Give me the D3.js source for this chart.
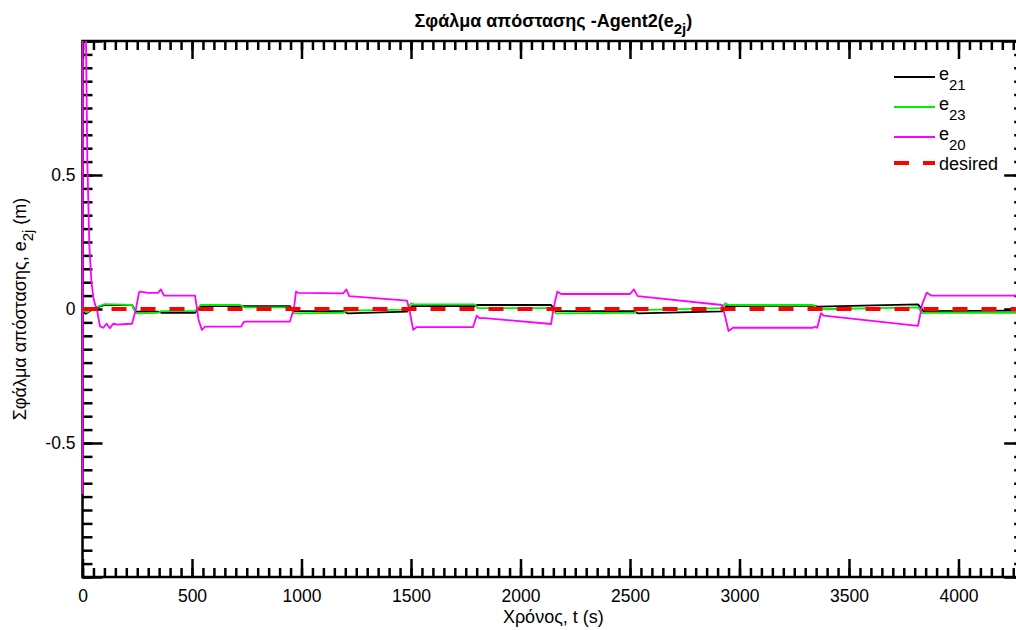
<!DOCTYPE html>
<html>
<head>
<meta charset="utf-8">
<script src="https://cdn.jsdelivr.net/npm/d3@7"></script>
<style>
  body { margin: 0; background: #fff; }
  svg text { font-family: Arial, "Liberation Sans", sans-serif; }
</style>
</head>
<body>
<div id="chart"></div>
<script>
// time (s) and error (m) for each series
const t21 = [0, 15, 40, 80, 103, 226, 244, 345, 360, 514, 540, 947, 965, 1190, 1210, 1482, 1505, 1790, 1805, 2140, 2160, 2520, 2535, 2920, 2940, 3336, 3360, 3815, 3840, 4300];
const e21 = [-0.01, -0.018, -0.005, 0.01, 0.015, 0.015, -0.01, -0.01, -0.014, -0.014, 0.011, 0.011, -0.008, -0.008, -0.016, -0.01, 0.011, 0.011, 0.015, 0.015, -0.008, -0.008, -0.016, -0.009, 0.011, 0.012, 0.009, 0.017, -0.008, -0.006];

const t23 = [0, 20, 60, 90, 103, 226, 244, 345, 360, 514, 540, 720, 740, 947, 965, 1190, 1210, 1482, 1500, 1515, 1790, 1805, 2140, 2160, 2520, 2535, 2920, 2935, 2950, 3336, 3360, 3815, 3835, 3850, 4300];
const e23 = [-0.005, -0.012, 0.005, 0.015, 0.018, 0.015, -0.016, -0.014, -0.008, -0.008, 0.015, 0.015, 0.006, 0.006, -0.016, -0.014, -0.006, -0.002, 0.021, 0.017, 0.017, 0.003, 0.003, -0.016, -0.014, -0.004, 0.003, 0.021, 0.015, 0.015, -0.001, 0.006, -0.016, -0.014, -0.014];

const t20 = [0, 2, 8, 13, 16, 22, 31, 40, 49, 58, 66, 72, 80, 95, 110, 125, 140, 160, 200, 226, 244, 258, 263, 300, 345, 358, 372, 377, 514, 530, 545, 560, 719, 725, 735, 742, 947, 965, 975, 985, 1190, 1205, 1218, 1482, 1492, 1510, 1525, 1783, 1800, 1812, 1838, 2140, 2150, 2168, 2185, 2500, 2518, 2535, 2920, 2935, 2950, 2970, 3336, 3345, 3355, 3372, 3385, 3815, 3835, 3855, 3875, 4300];
const e20 = [-0.69, 3.0, 2.0, 1.2, 1.0, 0.56, 0.24, 0.11, 0.045, 0.015, 0.0, -0.03, -0.065, -0.07, -0.055, -0.072, -0.055, -0.058, -0.056, -0.055, 0.0, 0.062, 0.065, 0.06, 0.06, 0.073, 0.05, 0.05, 0.05, -0.04, -0.078, -0.066, -0.066, -0.066, -0.05, -0.047, -0.047, 0.0, 0.065, 0.06, 0.058, 0.073, 0.048, 0.031, 0.0, -0.078, -0.068, -0.068, -0.025, -0.034, -0.034, -0.056, 0.0, 0.065, 0.056, 0.056, 0.073, 0.048, 0.015, -0.03, -0.082, -0.07, -0.07, -0.066, -0.07, -0.016, -0.025, -0.063, 0.02, 0.061, 0.05, 0.05];

const desiredT = [0, 4300];
const desiredV = [0, 0];

const xDomain = [0, 4300];
const yDomain = [-1, 1];
const xMajor = d3.range(0, 4001, 500);
const xMinor = d3.range(0, 4301, 50);
const yMajor = [-1, -0.5, 0, 0.5, 1];
const yMinor = d3.range(-20, 21).map(i => i * 0.05);
const yLabelled = [-0.5, 0, 0.5];

const legendNames = [["e", "21"], ["e", "23"], ["e", "20"], ["desired", ""]];
const colors = ["#000000", "#00ee00", "#ff00ff", "#ff0000"];

const width = 1016, height = 630;
const margin = { left: 82.5, top: 41, bottom: 53 };
const plotW = 4300 * 0.219;
const plotH = height - margin.top - margin.bottom;

const svg = d3.select("#chart").append("svg")
  .attr("width", width)
  .attr("height", height)
  .style("display", "block");

const x = d3.scaleLinear().domain(xDomain).range([margin.left, margin.left + plotW]);
const y = d3.scaleLinear().domain(yDomain).range([margin.top + plotH, margin.top]);

svg.append("clipPath").attr("id", "clip")
  .append("rect")
  .attr("x", margin.left - 2).attr("y", margin.top)
  .attr("width", plotW + 2).attr("height", plotH);

// axes, ticks pointing inward
function styleAxis(g) {
  g.select(".domain").remove();
  g.selectAll(".tick line").attr("stroke", "#000").attr("stroke-width", 2.5);
  g.selectAll(".tick text").attr("fill", "#000").style("font-size", "17.5px")
    .style("font-family", 'Arial, "Liberation Sans", sans-serif');
}
const bottomY = margin.top + plotH;
const rightX = margin.left + plotW;

svg.append("g").attr("transform", `translate(0,${bottomY})`)
  .call(d3.axisBottom(x).tickValues(xMinor).tickSize(-9).tickFormat(""))
  .call(styleAxis);
svg.append("g").attr("transform", `translate(0,${bottomY})`)
  .call(d3.axisBottom(x).tickValues(xMajor).tickSize(-18).tickPadding(13).tickFormat(d => String(d)))
  .call(styleAxis);
svg.append("g").attr("transform", `translate(0,${margin.top})`)
  .call(d3.axisTop(x).tickValues(xMinor).tickSize(-9).tickFormat(""))
  .call(styleAxis);
svg.append("g").attr("transform", `translate(0,${margin.top})`)
  .call(d3.axisTop(x).tickValues(xMajor).tickSize(-18).tickFormat(""))
  .call(styleAxis);

svg.append("g").attr("transform", `translate(${margin.left},0)`)
  .call(d3.axisLeft(y).tickValues(yMinor).tickSize(-10).tickFormat(""))
  .call(styleAxis);
svg.append("g").attr("transform", `translate(${margin.left},0)`)
  .call(d3.axisLeft(y).tickValues(yMajor).tickSize(-20).tickPadding(7)
    .tickFormat(d => yLabelled.includes(d) ? String(d) : ""))
  .call(styleAxis);
svg.append("g").attr("transform", `translate(${rightX},0)`)
  .call(d3.axisRight(y).tickValues(yMinor).tickSize(-10).tickFormat(""))
  .call(styleAxis);
svg.append("g").attr("transform", `translate(${rightX},0)`)
  .call(d3.axisRight(y).tickValues(yMajor).tickSize(-20).tickFormat(""))
  .call(styleAxis);

// frame
svg.append("rect")
  .attr("x", margin.left).attr("y", margin.top)
  .attr("width", plotW).attr("height", plotH)
  .attr("fill", "none").attr("stroke", "#000").attr("stroke-width", 2.5);

// lines, drawn over the frame
const line = d3.line().x(d => x(d[0])).y(d => y(d[1]));
const series = [
  d3.zip(t21, e21),
  d3.zip(t23, e23),
  d3.zip(t20, e20),
  d3.zip(desiredT, desiredV)
];
const plot = svg.append("g").attr("clip-path", "url(#clip)");
series.forEach((s, i) => {
  plot.append("path")
    .attr("d", line(s))
    .attr("fill", "none")
    .attr("stroke", colors[i])
    .attr("stroke-width", i === 3 ? 4 : 1.8)
    .attr("stroke-dasharray", i === 3 ? "15 14" : null)
    .attr("stroke-linejoin", "round");
});

// title
const title = svg.append("text")
  .attr("x", (margin.left + rightX) / 2).attr("y", 27)
  .attr("text-anchor", "middle")
  .style("font-size", "18px").style("font-weight", "bold");
title.append("tspan").text("Σφάλμα απόστασης -Agent2(e");
title.append("tspan").attr("dy", 7).style("font-size", "15px").text("2j");
title.append("tspan").attr("dy", -7).text(")");

// x label
svg.append("text")
  .attr("x", (margin.left + rightX) / 2).attr("y", 623)
  .attr("text-anchor", "middle")
  .style("font-size", "18px")
  .text("Χρόνος, t (s)");

// y label
const yl = svg.append("text")
  .attr("transform", `translate(26,${margin.top + plotH / 2}) rotate(-90)`)
  .attr("text-anchor", "middle")
  .style("font-size", "18px");
yl.append("tspan").text("Σφάλμα απόστασης, e");
yl.append("tspan").attr("dy", 7).style("font-size", "15px").text("2j");
yl.append("tspan").attr("dy", -7).text(" (m)");

// legend
const legend = svg.append("g");
legendNames.forEach((n, i) => {
  const ly = 77 + i * 30 - (i === 3 ? 4 : 0);
  legend.append("line")
    .attr("x1", 894).attr("x2", 935)
    .attr("y1", ly).attr("y2", ly)
    .attr("stroke", colors[i])
    .attr("stroke-width", i === 3 ? 4 : 1.8)
    .attr("stroke-dasharray", i === 3 ? "15 14" : null);
  const tx = legend.append("text")
    .attr("x", 939).attr("y", i === 3 ? ly + 7 : ly + 3)
    .style("font-size", "18px");
  tx.append("tspan").text(n[0]);
  if (n[1]) tx.append("tspan").attr("dy", 10).style("font-size", "15px").text(n[1]);
});
</script>
</body>
</html>
